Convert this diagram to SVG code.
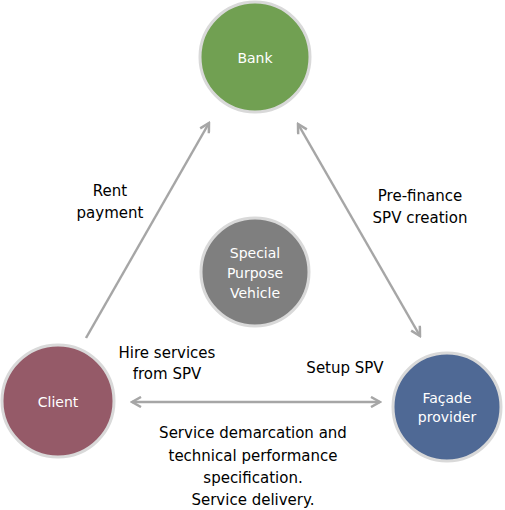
<svg xmlns="http://www.w3.org/2000/svg" width="505" height="510" viewBox="0 0 505 510">
<style>
.node circle{stroke:#d9d9d9;stroke-width:3}
.nt{font-family:"DejaVu Sans","Liberation Sans",sans-serif;fill:#ffffff;font-size:14px;text-anchor:middle}
.lbl{font-family:"DejaVu Sans","Liberation Sans",sans-serif;fill:#000000;font-size:15px;text-anchor:middle}
.conn line{stroke:#a6a6a6;stroke-width:2.5;fill:none}
</style>
<defs>
<marker id="ah" viewBox="0 0 12 12" refX="10" refY="6" markerWidth="12" markerHeight="12" markerUnits="userSpaceOnUse" orient="auto-start-reverse">
<path d="M1,1 L10,6 L1,11" fill="none" stroke="#a6a6a6" stroke-width="2.5"/>
</marker>
</defs>
<rect width="505" height="510" fill="#ffffff"/>
<g id="connectors" class="conn">
<line id="rent" x1="86" y1="338" x2="209" y2="123" marker-end="url(#ah)"/>
<line id="prefinance" x1="298" y1="124" x2="420" y2="336" marker-start="url(#ah)" marker-end="url(#ah)"/>
<line id="service" x1="132" y1="402" x2="380" y2="402" marker-start="url(#ah)" marker-end="url(#ah)"/>
</g>
<g id="bank" class="node">
<circle cx="255" cy="57" r="55" fill="#71a052"/>
<text class="nt" x="255" y="63">Bank</text>
</g>
<g id="spv" class="node">
<circle cx="255" cy="272" r="54" fill="#7f7f7f"/>
<text class="nt" x="255" y="258">Special</text>
<text class="nt" x="255" y="278">Purpose</text>
<text class="nt" x="255" y="298">Vehicle</text>
</g>
<g id="client" class="node">
<circle cx="58" cy="401" r="56" fill="#955a68"/>
<text class="nt" x="58" y="407">Client</text>
</g>
<g id="facade" class="node">
<circle cx="447" cy="407" r="54" fill="#4f6995"/>
<text class="nt" x="447" y="403">Façade</text>
<text class="nt" x="447" y="422">provider</text>
</g>
<g id="labels">
<text class="lbl" x="110" y="196">Rent</text>
<text class="lbl" x="110" y="218">payment</text>
<text class="lbl" x="420" y="201">Pre-finance</text>
<text class="lbl" x="420" y="223">SPV creation</text>
<text class="lbl" x="167" y="358">Hire services</text>
<text class="lbl" x="167" y="379">from SPV</text>
<text class="lbl" x="345" y="373">Setup SPV</text>
<text class="lbl" x="253" y="438">Service demarcation and</text>
<text class="lbl" x="253" y="461">technical performance</text>
<text class="lbl" x="253" y="483">specification.</text>
<text class="lbl" x="253" y="505">Service delivery.</text>
</g>
</svg>
